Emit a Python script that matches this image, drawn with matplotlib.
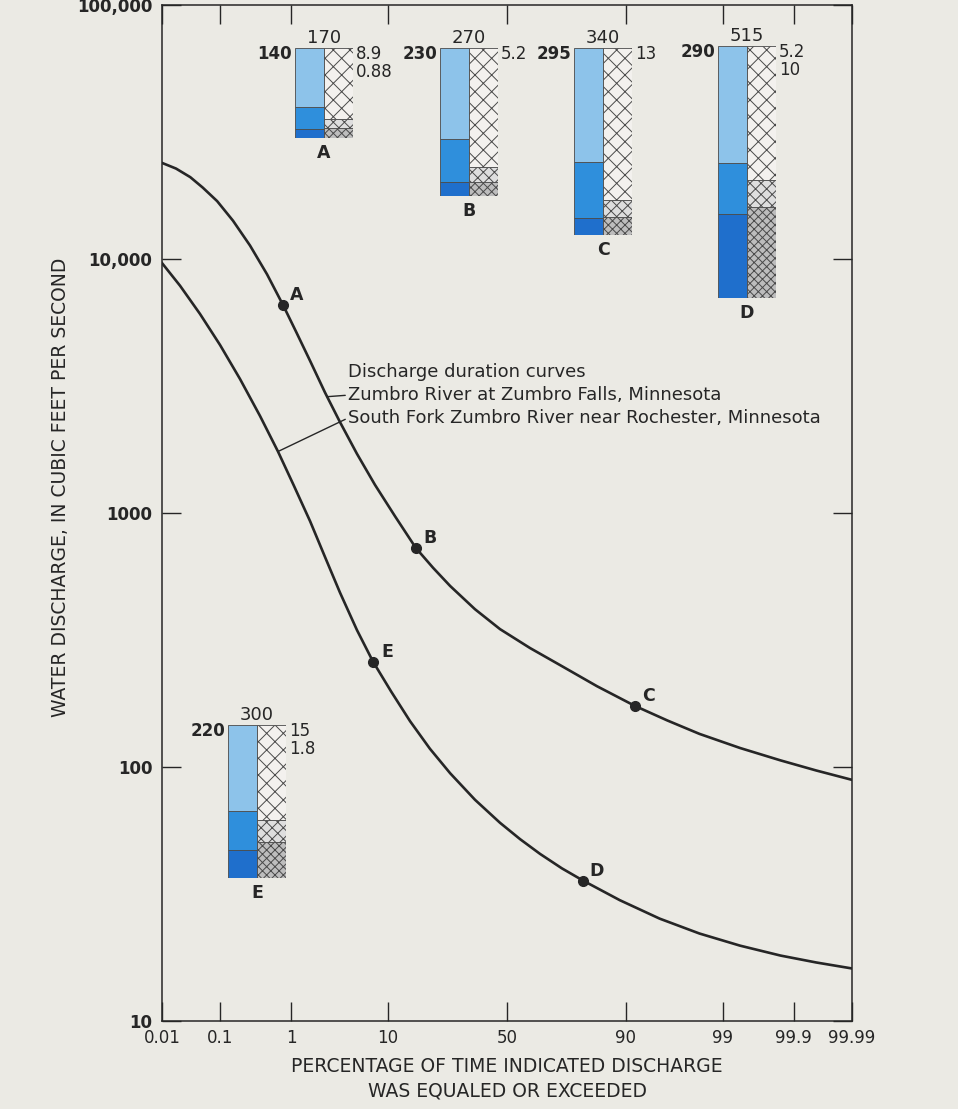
import numpy as np
from statistics import NormalDist

import matplotlib
matplotlib.use('Agg')
import matplotlib.pyplot as plt
from matplotlib.ticker import FixedLocator, NullLocator


# Discharge duration curves
# (percent of time equaled or exceeded, discharge in cfs)
zumbro_pct = [0.01, 0.018, 0.032, 0.052, 0.089, 0.157, 0.28, 0.484, 0.79,
              1.15, 1.69, 2.49, 3.59, 5.29, 7.74, 11.4, 16.3, 21.3, 27.0,
              36.5, 47.0, 59.8, 71.6, 83.4, 91.6, 95.8, 98.1, 99.40, 99.84,
              99.957, 99.99]
zumbro_q = [23900, 22700, 21000, 19100, 16900, 14150, 11300, 8710, 6580,
            5170, 3970, 2980, 2280, 1710, 1290, 969, 728, 608, 516,
            418, 349, 294, 252, 208, 174, 152.5, 135, 118.8, 106.2,
            96.9, 89]

south_pct = [0.01, 0.0212, 0.0467, 0.0988, 0.200, 0.388, 0.678, 1.08, 1.69,
             2.49, 3.59, 5.29, 7.43, 10.6, 14.8, 20.3, 27.0, 36.5, 47.0,
             55.6, 63.9, 72.3, 79.4, 88.8, 95.0, 98.1, 99.40, 99.84, 99.957,
             99.99]
south_q = [9640, 7850, 6080, 4590, 3370, 2410, 1746, 1281, 928,
           671, 486, 346, 260, 198, 151.5, 118, 94.5, 74.3, 60.3,
           52.0, 45.5, 39.9, 35.7, 29.9, 25.3, 22.1, 19.8, 18.1, 17.0,
           16.1]

# Sampling points
pt_names = ['A', 'B', 'C', 'D', 'E']
pt_pct = [0.79, 16.3, 91.6, 79.4, 7.43]
pt_q = [6580, 728, 174, 35.7, 260]

# where the legend leader lines touch the curves
zumbro_hook = (2.62, 2870)
south_hook = (0.678, 1746)

# Inset bar diagrams
totals = [170, 270, 340, 515, 300]
left_vals = ['140', '230', '295', '290', '220']
right_vals = ['8.9\n0.88', '5.2', '13', '5.2\n10', '15\n1.8']
# blue column, bottom -> top (dark, medium, light)
blue_segs = [[17, 41, 112], [26, 78, 166], [31, 102, 207],
             [172, 104, 239], [55, 76, 169]]
# hatched column, bottom -> top (dense, medium, sparse)
hatch_segs = [[19, 17, 134], [26, 27, 217], [33, 31, 276],
              [186, 55, 274], [71, 43, 186]]

x_ticks = [0.01, 0.1, 1, 10, 50, 90, 99, 99.9, 99.99]
x_labels = ['0.01', '0.1', '1', '10', '50', '90', '99', '99.9', '99.99']
y_ticks = [10, 100, 1000, 10000, 100000]
y_labels = ['10', '100', '1000', '10,000', '100,000']


W, H = 958, 1109
bg = '#ebeae4'
ink = '#262626'

_nd = NormalDist()
def prob_fwd(p):
    p = np.clip(np.asarray(p, dtype=float), 1e-6, 100 - 1e-6)
    return np.vectorize(lambda v: _nd.inv_cdf(v / 100.0), otypes=[float])(p)
def prob_inv(z):
    z = np.asarray(z, dtype=float)
    return np.vectorize(lambda v: _nd.cdf(v) * 100.0, otypes=[float])(z)

def fig_box(x0, y0, w, h):
    return [x0 / W, 1 - (y0 + h) / H, w / W, h / H]


plt.rcParams['font.family'] = ['DejaVu Sans']
plt.rcParams['hatch.linewidth'] = 0.7

fig = plt.figure(figsize=(W / 100, H / 100), dpi=100, facecolor=bg)
ax = fig.add_axes(fig_box(162, 5, 690, 1016))
ax.set_facecolor(bg)

ax.set_xscale('function', functions=(prob_fwd, prob_inv))
ax.set_yscale('log')
ax.set_xlim(0.01, 99.99)
ax.set_ylim(10, 100000)

ax.plot(zumbro_pct, zumbro_q, color=ink, lw=1.9, solid_joinstyle='round')
ax.plot(south_pct, south_q, color=ink, lw=1.9, solid_joinstyle='round')
ax.plot(pt_pct, pt_q, 'o', color=ink, ms=7)
for name, p, q in zip(pt_names, pt_pct, pt_q):
    ax.annotate(name, xy=(p, q), xytext=(10, 7), textcoords='offset points',
                ha='center', va='center', fontsize=12.5, fontweight='bold', color=ink)

ax.xaxis.set_major_locator(FixedLocator(x_ticks))
ax.xaxis.set_minor_locator(NullLocator())
ax.set_xticklabels(x_labels)
ax.yaxis.set_major_locator(FixedLocator(y_ticks))
ax.yaxis.set_minor_locator(NullLocator())
ax.set_yticklabels(y_labels)

ax.tick_params(direction='in', top=True, right=True, length=13.5, width=1.0,
               color=ink, labelcolor=ink)
ax.tick_params(axis='x', labelsize=12, pad=6)
ax.tick_params(axis='y', labelsize=12, pad=7)
for lab in ax.get_yticklabels():
    lab.set_fontweight('bold')
for s in ax.spines.values():
    s.set_linewidth(1.1)
    s.set_color(ink)

ax.set_xlabel('PERCENTAGE OF TIME INDICATED DISCHARGE\nWAS EQUALED OR EXCEEDED',
              fontsize=13.5, linespacing=1.35, color=ink, labelpad=7)
ax.set_ylabel('WATER DISCHARGE, IN CUBIC FEET PER SECOND', fontsize=13.5, color=ink)
ax.yaxis.set_label_coords(-0.134, 0.525)

# legend texts with leader lines to the curves
leg_x = 0.2696
ax.text(leg_x, 0.639, 'Discharge duration curves', transform=ax.transAxes,
        fontsize=13, va='center', ha='left', color=ink)
ax.annotate('Zumbro River at Zumbro Falls, Minnesota', xy=zumbro_hook,
            xytext=(leg_x, 0.616), textcoords='axes fraction', fontsize=13,
            va='center', ha='left', color=ink,
            arrowprops=dict(arrowstyle='-', color=ink, lw=1.0, relpos=(0, 0.5),
                            shrinkA=0, shrinkB=0))
ax.annotate('South Fork Zumbro River near Rochester, Minnesota', xy=south_hook,
            xytext=(leg_x, 0.5935), textcoords='axes fraction', fontsize=13,
            va='center', ha='left', color=ink,
            arrowprops=dict(arrowstyle='-', color=ink, lw=1.0, relpos=(0, 0.5),
                            shrinkA=0, shrinkB=0))

# inset bar diagrams
inset_left = [295, 440, 574, 718, 228]
inset_top = [48, 48, 48, 46, 725]
inset_h = [90, 148, 187, 252, 153]
col_w = 29
blue_cols = ['#1f6fcc', '#2f8fdc', '#8dc3ea']
hatch_fc = ['#bdbdbd', '#dedede', '#f3f1ee']
hatch_pat = ['xxxx', 'xxx', 'xx']

for i in range(len(totals)):
    iax = fig.add_axes(fig_box(inset_left[i], inset_top[i], 2 * col_w, inset_h[i]))
    iax.set_xlim(-0.5, 1.5)
    iax.set_ylim(0, totals[i])
    iax.axis('off')
    iax.patch.set_alpha(0)
    bottom = 0
    for v, c in zip(blue_segs[i], blue_cols):
        iax.bar(0, v, width=1, bottom=bottom, color=c, edgecolor='#4a4a4a', linewidth=0.6)
        bottom += v
    bottom = 0
    for v, fc, hp in zip(hatch_segs[i], hatch_fc, hatch_pat):
        iax.bar(1, v, width=1, bottom=bottom, facecolor=fc, hatch=hp,
                edgecolor='#4a4a4a', linewidth=0.6)
        bottom += v
    iax.annotate(str(totals[i]), xy=(0.5, 1), xycoords='axes fraction', xytext=(0, 1),
                 textcoords='offset points', ha='center', va='bottom',
                 fontsize=13, color=ink)
    iax.annotate(left_vals[i], xy=(0, 1), xycoords='axes fraction', xytext=(-2, 2),
                 textcoords='offset points', ha='right', va='top',
                 fontsize=12, fontweight='bold', color=ink)
    iax.annotate(right_vals[i], xy=(1, 1), xycoords='axes fraction', xytext=(2, 2),
                 textcoords='offset points', ha='left', va='top',
                 fontsize=12, color=ink, linespacing=0.95)
    iax.annotate(pt_names[i], xy=(0.5, 0), xycoords='axes fraction', xytext=(0, -4),
                 textcoords='offset points', ha='center', va='top',
                 fontsize=12.5, fontweight='bold', color=ink)

fig.savefig('out.png', dpi=100, facecolor=bg)
